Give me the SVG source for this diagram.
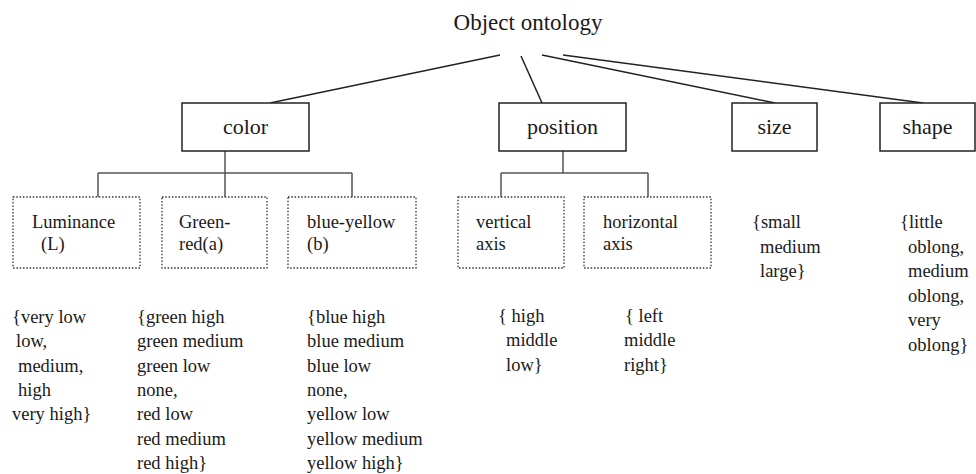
<svg xmlns="http://www.w3.org/2000/svg" width="976" height="474" viewBox="0 0 976 474">
<style>
.t0,.t1,.t2{font-family:"Liberation Serif","Times New Roman",serif;fill:#1a1a1a}
.t0{font-size:23px}
.t1{font-size:22px}
.t2{font-size:18.5px}
.box{fill:#fff;stroke:#222;stroke-width:1.5}
.dot{fill:none;stroke:#333;stroke-width:1.3;stroke-dasharray:1.5 1.8}
.con line{stroke:#222;stroke-width:1.5}
.tree line{stroke:#555;stroke-width:1.5}
</style>
<rect width="976" height="474" fill="#fff"/>
<g id="connectors">
<g class="con">
<line x1="500" y1="55" x2="270" y2="103"/>
<line x1="521" y1="56" x2="542" y2="103"/>
<line x1="542" y1="55" x2="775" y2="103"/>
<line x1="563" y1="55" x2="923" y2="103"/>
</g>
<g class="tree">
<line x1="225" y1="151" x2="225" y2="197"/>
<line x1="98" y1="173" x2="352" y2="173"/>
<line x1="98" y1="173" x2="98" y2="197"/>
<line x1="352" y1="173" x2="352" y2="197"/>
<line x1="563" y1="151" x2="563" y2="173"/>
<line x1="501" y1="173" x2="648" y2="173"/>
<line x1="501" y1="173" x2="501" y2="197"/>
<line x1="648" y1="173" x2="648" y2="197"/>
</g>
</g>
<g id="root"><text class="t0" x="528" y="30" text-anchor="middle">Object ontology</text></g>
<g id="color"><rect class="box" x="182" y="103" width="127" height="48"/><text class="t1" x="245.5" y="134" text-anchor="middle">color</text></g>
<g id="position"><rect class="box" x="499" y="103" width="127" height="48"/><text class="t1" x="562.5" y="134" text-anchor="middle">position</text></g>
<g id="size"><rect class="box" x="732" y="103" width="85" height="48"/><text class="t1" x="774.5" y="134" text-anchor="middle">size</text></g>
<g id="shape"><rect class="box" x="880" y="103" width="95" height="48"/><text class="t1" x="927.5" y="134" text-anchor="middle">shape</text></g>
<g id="luminance"><rect class="dot" x="13" y="197" width="127" height="71"/><text class="t2" x="32" y="228">Luminance</text><text class="t2" x="41" y="250">(L)</text></g>
<g id="green-red"><rect class="dot" x="162" y="197" width="105" height="71"/><text class="t2" x="179" y="228">Green-</text><text class="t2" x="179" y="250">red(a)</text></g>
<g id="blue-yellow"><rect class="dot" x="288" y="197" width="128" height="71"/><text class="t2" x="307" y="228">blue-yellow</text><text class="t2" x="307" y="250">(b)</text></g>
<g id="vertical"><rect class="dot" x="458" y="197" width="106" height="71"/><text class="t2" x="476" y="228">vertical</text><text class="t2" x="476" y="250">axis</text></g>
<g id="horizontal"><rect class="dot" x="584" y="197" width="127" height="71"/><text class="t2" x="603" y="228">horizontal</text><text class="t2" x="603" y="250">axis</text></g>
<g id="lum-values">
<text class="t2" x="12" y="323">{very low</text>
<text class="t2" x="16" y="347.3">low,</text>
<text class="t2" x="18" y="371.6">medium,</text>
<text class="t2" x="18" y="395.9">high</text>
<text class="t2" x="12" y="420.2">very high}</text>
</g>
<g id="gr-values">
<text class="t2" x="137" y="323">{green high</text>
<text class="t2" x="137" y="347.3">green medium</text>
<text class="t2" x="137" y="371.6">green low</text>
<text class="t2" x="137" y="395.9">none,</text>
<text class="t2" x="137" y="420.2">red low</text>
<text class="t2" x="137" y="444.5">red medium</text>
<text class="t2" x="137" y="468.8">red high}</text>
</g>
<g id="by-values">
<text class="t2" x="307" y="323">{blue high</text>
<text class="t2" x="307" y="347.3">blue medium</text>
<text class="t2" x="307" y="371.6">blue low</text>
<text class="t2" x="307" y="395.9">none,</text>
<text class="t2" x="307" y="420.2">yellow low</text>
<text class="t2" x="307" y="444.5">yellow medium</text>
<text class="t2" x="307" y="468.8">yellow high}</text>
</g>
<g id="v-values">
<text class="t2" x="498" y="322">{ high</text>
<text class="t2" x="506" y="346.3">middle</text>
<text class="t2" x="506" y="370.6">low}</text>
</g>
<g id="h-values">
<text class="t2" x="625" y="322">{ left</text>
<text class="t2" x="624" y="346.3">middle</text>
<text class="t2" x="624" y="370.6">right}</text>
</g>
<g id="size-values">
<text class="t2" x="752" y="228">{small</text>
<text class="t2" x="760" y="252.5">medium</text>
<text class="t2" x="760" y="277">large}</text>
</g>
<g id="shape-values">
<text class="t2" x="900" y="228">{little</text>
<text class="t2" x="908" y="252.5">oblong,</text>
<text class="t2" x="908" y="277">medium</text>
<text class="t2" x="908" y="301.5">oblong,</text>
<text class="t2" x="908" y="326">very</text>
<text class="t2" x="908" y="350.5">oblong}</text>
</g>
</svg>
